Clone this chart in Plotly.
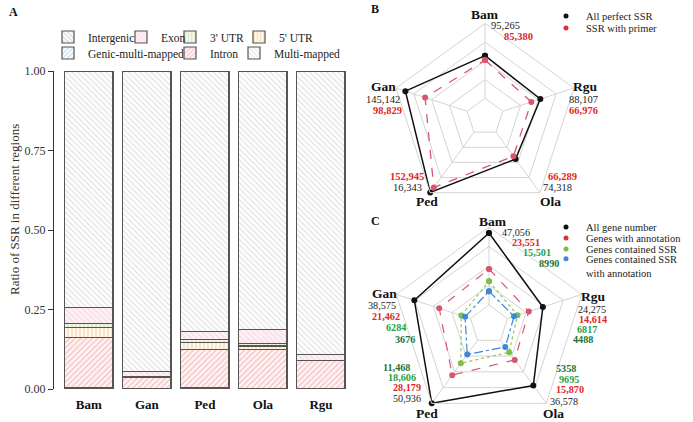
import plotly.graph_objects as go

W, H = 693, 422
SERIF = "Liberation Serif"

# ---------------- Panel A data (fractions, stacked bottom -> top) ----------------
samples = ["Bam", "Gan", "Ped", "Ola", "Rgu"]
intergenic = [0.003, 0.001, 0.003, 0.001, 0.001]
genic_multi = [0.0, 0.0, 0.0, 0.0, 0.0]
intron = [0.159, 0.037, 0.122, 0.124, 0.089]
utr5 = [0.032, 0.0, 0.020, 0.010, 0.0]
utr3 = [0.013, 0.0, 0.011, 0.007, 0.0]
exon = [0.049, 0.016, 0.024, 0.045, 0.018]
multi = [0.744, 0.946, 0.820, 0.813, 0.892]
y_ticks = [0, 0.25, 0.5, 0.75, 1.0]

# ---------------- Panel B data ----------------
radar_axes = ["Bam", "Rgu", "Ola", "Ped", "Gan"]
all_ssr = [95265, 88107, 74318, 166343, 145142]
ssr_primer = [85380, 66976, 66289, 152945, 98829]
all_ssr_text = ["95,265", "88,107", "74,318", "16,343", "145,142"]
ssr_primer_text = ["85,380", "66,976", "66,289", "152,945", "98,829"]

# ---------------- Panel C data ----------------
all_gene = [47056, 24275, 36578, 50936, 38575]
genes_annot = [23551, 14614, 15870, 28179, 21462]
genes_ssr = [15501, 6817, 9695, 18606, 6284]
genes_ssr_annot = [8990, 4488, 5358, 11468, 3676]
all_gene_text = ["47,056", "24,275", "36,578", "50,936", "38,575"]
genes_annot_text = ["23,551", "14,614", "15,870", "28,179", "21,462"]
genes_ssr_text = ["15,501", "6817", "9695", "18,606", "6284"]
genes_ssr_annot_text = ["8990", "4488", "5358", "11,468", "3676"]


def px(x):
    return x / W


def py(y):
    return 1 - y / H


fig = go.Figure()

# ---------------- Panel A bars ----------------
bar_specs = [
    ("Intergenic", intergenic, "#9a9a9a", "#ffffff", "\\", "legend"),
    ("Genic-multi-mapped", genic_multi, "#6fa8dc", "#ffffff", "/", "legend5"),
    ("Intron", intron, "#ee8585", "#fff4f4", "/", "legend6"),
    ("5' UTR", utr5, "#f3b56e", "#fff8ec", "|", "legend4"),
    ("3' UTR", utr3, "#a5cc80", "#f4f9ec", "|", "legend3"),
    ("Exon", exon, "#f4bfd1", "#fdf2f6", "\\", "legend2"),
    ("Multi-mapped", multi, "#c4c4c4", "#ffffff", "\\", "legend7"),
]
for name, vals, fg, bg, shape, lg in bar_specs:
    fig.add_trace(go.Bar(
        x=samples, y=vals, name=name, legend=lg,
        marker=dict(color=bg,
                    pattern=dict(shape=shape, fgcolor=fg, bgcolor=bg,
                                 size=4, solidity=0.3, fillmode="overlay"),
                    line=dict(color="#555555", width=1.2)),
        xaxis="x", yaxis="y",
    ))

# ---------------- Panel B radar ----------------
def closed(v):
    return list(v) + [v[0]]


fig.add_trace(go.Scatterpolar(
    r=closed(all_ssr), theta=closed(radar_axes), mode="lines+markers",
    line=dict(color="#111111", width=1.5), marker=dict(color="#111111", size=6),
    subplot="polar", showlegend=False))
fig.add_trace(go.Scatterpolar(
    r=closed(ssr_primer), theta=closed(radar_axes), mode="lines+markers",
    line=dict(color="#d9566f", width=1.3, dash="dash"),
    marker=dict(color="#d9566f", size=6),
    subplot="polar", showlegend=False))

# ---------------- Panel C radar ----------------
c_series = [
    (all_gene, "#111111", "solid", "#111111"),
    (genes_annot, "#d9566f", "dash", "#d9566f"),
    (genes_ssr, "#8cc45a", "dot", "#7cbf4a"),
    (genes_ssr_annot, "#3d86d8", "dashdot", "#3d86d8"),
]
for vals, lc, dash, mc in c_series:
    fig.add_trace(go.Scatterpolar(
        r=closed(vals), theta=closed(radar_axes), mode="lines+markers",
        line=dict(color=lc, width=1.5 if dash == "solid" else 1.2, dash=dash),
        marker=dict(color=mc, size=6),
        subplot="polar2", showlegend=False))

# legend-only dot entries
leg_dots = [
    ("All perfect SSR", "#111111", "polar", "legend8"),
    ("SSR with primer", "#e0303a", "polar", "legend9"),
    ("All gene number", "#111111", "polar2", "legend10"),
    ("Genes with annotation", "#e0303a", "polar2", "legend11"),
    ("Genes contained SSR", "#7cbf4a", "polar2", "legend12"),
    ("Genes contained SSR<br>with annotation", "#3d86d8", "polar2", "legend13"),
]
for name, col, sp, lg in leg_dots:
    fig.add_trace(go.Scatterpolar(
        r=[None], theta=[None], mode="markers", name=name, legend=lg,
        marker=dict(color=col, size=5), subplot=sp))


def leg(text_x, yc, size=11.5, valign="middle"):
    return dict(x=px(text_x - 40), y=py(yc), xanchor="left", yanchor="middle",
                bgcolor="rgba(0,0,0,0)", borderwidth=0, itemwidth=30, valign=valign,
                font=dict(family=SERIF, size=size, color="#222222"))


grid_c = "#d4d4d4"


def polar_cfg(domx, domy, rmax):
    return dict(
        domain=dict(x=domx, y=domy), hole=0.2, gridshape="linear",
        bgcolor="rgba(0,0,0,0)",
        radialaxis=dict(range=[0, rmax], tickvals=[0, rmax / 4, rmax / 2, rmax * 3 / 4, rmax],
                        showticklabels=False, ticks="", showline=False,
                        gridcolor=grid_c, gridwidth=1),
        angularaxis=dict(direction="clockwise", rotation=90, categoryorder="array",
                         categoryarray=radar_axes, showticklabels=False, ticks="",
                         gridcolor=grid_c, linecolor=grid_c, linewidth=1),
    )


layout = dict(
    width=W, height=H, autosize=False,
    margin=dict(l=0, r=0, t=0, b=0),
    paper_bgcolor="white", plot_bgcolor="white",
    barmode="stack", bargap=0.17,
    font=dict(family=SERIF, color="#222222"),
    xaxis=dict(domain=[px(54), px(350)], range=[-0.6, 4.5], type="category",
               showline=False, ticks="", showgrid=False, zeroline=False,
               tickfont=dict(family=SERIF, size=13, weight="bold", color="#111"),
               automargin=False, ticklabelstandoff=6),
    yaxis=dict(domain=[py(389), py(71)], range=[0, 1], tickvals=y_ticks,
               tickformat=".2f", showline=True, linecolor="#333", linewidth=1,
               ticks="outside", ticklen=5, tickcolor="#333", showgrid=False,
               zeroline=False, tickfont=dict(family=SERIF, size=12, color="#333"),
               automargin=False),
    polar=polar_cfg([px(391.5), px(578.5)], [py(210.5), py(23.5)], 167000),
    polar2=polar_cfg([px(391.5), px(586.5)], [0.0, py(227)], 51000),
    legend=leg(88, 37),
    legend2=leg(161, 37),
    legend3=leg(210, 37),
    legend4=leg(279, 37),
    legend5=leg(88, 53),
    legend6=leg(210, 53),
    legend7=leg(274, 53),
    legend8=leg(586, 16, 10.5),
    legend9=leg(586, 28, 10.5),
    legend10=leg(586, 227, 10.5),
    legend11=leg(586, 238, 10.5),
    legend12=leg(586, 249, 10.5),
    legend13=leg(586, 266, 10.5, "top"),
)
fig.update_layout(**layout)

ann = []


def add_text(x, y, text, size=12, color="#222222", bold=False, angle=0):
    ann.append(dict(x=px(x), y=py(y), xref="paper", yref="paper", text=text,
                    showarrow=False, textangle=angle, xanchor="center", yanchor="middle",
                    font=dict(family=SERIF, size=size, color=color,
                              weight="bold" if bold else "normal")))


# panel letters
add_text(13, 12, "A", 12, "#111", True)
add_text(375, 9, "B", 12, "#111", True)
add_text(375, 221, "C", 12, "#111", True)
# A y title
add_text(15, 210, "Ratio of SSR in different regions", 13, "#333", False, -90)

RED = "#e3251e"
GREEN = "#28a047"
DGREEN = "#1c7438"

# B labels: order Bam, Rgu, Ola, Ped, Gan
b_name_pos = [(485, 14), (585, 87), (550, 201), (427, 201), (383, 87)]
b_all_pos = [(505, 25), (583, 99), (557, 187), (407, 187), (383, 99)]
b_pri_pos = [(518, 36), (583, 110), (562, 176), (407, 176), (387, 110)]
for i, nm in enumerate(radar_axes):
    add_text(*b_name_pos[i], nm, 13.5, "#111", True)
    add_text(*b_all_pos[i], all_ssr_text[i], 10.5, "#222")
    add_text(*b_pri_pos[i], ssr_primer_text[i], 10.5, RED, True)

# C labels
c_name_pos = [(493, 221), (593, 296), (553, 413), (427, 413), (384, 293)]
c_all_pos = [(516, 232), (592, 309), (564, 401), (407, 398), (382, 305)]
c_ann_pos = [(526, 242.5), (593, 319), (570, 389.5), (407, 387.5), (386, 316)]
c_ssr_pos = [(537, 252.5), (587, 329), (569, 379), (402, 377), (396, 327)]
c_ssra_pos = [(549, 263.5), (583, 339), (566, 368), (396, 367), (405, 339)]
for i, nm in enumerate(radar_axes):
    add_text(*c_name_pos[i], nm, 13.5, "#111", True)
    add_text(*c_all_pos[i], all_gene_text[i], 10.2, "#222")
    add_text(*c_ann_pos[i], genes_annot_text[i], 10.2, RED, True)
    add_text(*c_ssr_pos[i], genes_ssr_text[i], 10.2, GREEN, True)
    add_text(*c_ssra_pos[i], genes_ssr_annot_text[i], 10.2, DGREEN, True)

fig.update_layout(annotations=ann)
fig.write_html("out.html", config={"displayModeBar": False},
               post_script="document.body.style.margin='0px';"
                           "document.body.style.overflow='hidden';")
